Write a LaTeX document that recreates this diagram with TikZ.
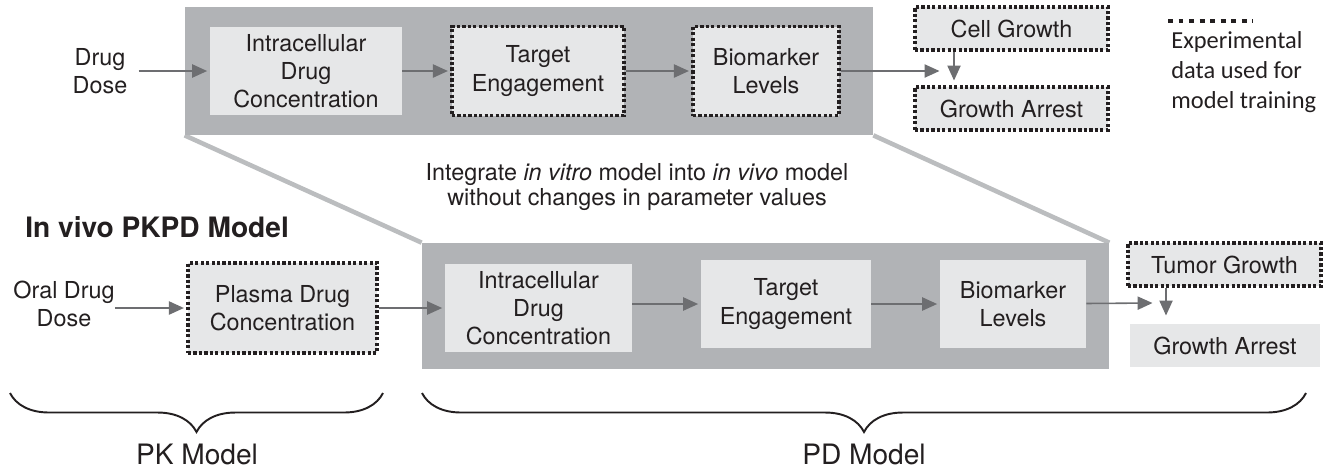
\documentclass[tikz,border=0pt]{standalone}
\usepackage{fontspec}
\setmainfont{TeX Gyre Heros}
\newfontfamily\legendfont{Carlito}
\usetikzlibrary{arrows.meta,backgrounds,decorations.pathreplacing}
\definecolor{panelgray}{RGB}{177,179,182}
\definecolor{boxgray}{RGB}{230,231,232}
\definecolor{flowgray}{RGB}{109,110,113}
\definecolor{zoomgray}{RGB}{187,189,191}
\definecolor{inkblack}{RGB}{35,31,32}

\begin{document}
\begin{tikzpicture}[
    x=0.2mm, y=-0.2mm,
    >={Triangle[length=8.5pt, width=7.5pt]},
    panel/.style={rectangle, fill=panelgray, inner sep=0pt},
    stage/.style={rectangle, fill=boxgray, inner sep=0pt, align=center, text=inkblack, font=\fontsize{13.3}{16}\selectfont},
    measured/.style={stage, draw=inkblack, line width=1.8pt, dash pattern=on 1.8pt off 1.3pt},
    input/.style={align=center, inner sep=0pt, text=inkblack, font=\fontsize{13.3}{16}\selectfont},
    flow/.style={->, draw=flowgray, line width=0.9pt, shorten >=0.5mm},
    zoomline/.style={draw=zoomgray, line width=2.6pt},
    curly/.style={decorate, decoration={brace, mirror, amplitude=7.8mm}, draw=inkblack, line width=1.1pt},
]
\useasboundingbox (0,0) rectangle (1330,472);

\node[panel, minimum width=137.6mm, minimum height=25.6mm] (vitro) at (529,71) {};
\node[panel, minimum width=137.4mm, minimum height=25.2mm] (vivo) at (765.5,306) {};
\begin{scope}[on background layer]
\draw[zoomline] (vitro.south west) -- (vivo.north west);
\draw[zoomline] (vitro.south east) -- (vivo.north east);
\end{scope}

% in vitro chain
\node[input] (dosevitro) at (100,71) {Drug\\Dose};
\node[stage, minimum width=38.4mm, minimum height=17.6mm] (icvitro) at (306,71) {Intracellular\\Drug\\Concentration};
\node[measured, minimum width=34.4mm, minimum height=17.8mm] (tevitro) at (538,71) {Target\\Engagement};
\node[measured, minimum width=29.2mm, minimum height=17.8mm] (bmvitro) at (766,71) {Biomarker\\Levels};
\node[measured, minimum width=38.6mm, minimum height=8.6mm] (cellgrowth) at (1011.5,28.5) {Cell Growth};
\node[measured, minimum width=38.6mm, minimum height=8.6mm] (arrestvitro) at (1011.5,108.5) {Growth Arrest};
\coordinate (jvitro) at (942,71);
\coordinate (kvitro) at (954,83);

\draw[flow, shorten <=2.2mm] (dosevitro) -- (icvitro);
\draw[flow] (icvitro) -- (tevitro);
\draw[flow] (tevitro) -- (bmvitro);
\draw[flow] (bmvitro) -- (jvitro);
\draw[flow] (cellgrowth.south -| kvitro) -- (kvitro);

\node[input, font=\fontsize{13.3}{14.2}\selectfont] (integrate) at (637,187) {Integrate \textit{in vitro} model into \textit{in vivo} model\\without changes in parameter values};

% in vivo chain
\node[input, anchor=west, font=\fontsize{16}{19}\selectfont\bfseries] (vivotitle) at (25,227) {In vivo PKPD Model};
\node[input] (dosevivo) at (64,304) {Oral Drug\\Dose};
\node[measured, minimum width=37.8mm, minimum height=18mm] (plasma) at (282.5,308) {Plasma Drug\\Concentration};
\node[stage, minimum width=37.4mm, minimum height=17.6mm] (icvivo) at (538.5,308) {Intracellular\\Drug\\Concentration};
\node[stage, minimum width=34mm, minimum height=17.6mm] (tevivo) at (786,304) {Target\\Engagement};
\node[stage, minimum width=29.2mm, minimum height=17.6mm] (bmvivo) at (1013,304) {Biomarker\\Levels};
\node[measured, minimum width=38.6mm, minimum height=8.6mm] (tumorgrowth) at (1224.5,264.5) {Tumor Growth};
\node[stage, minimum width=38mm, minimum height=8.6mm] (arrestvivo) at (1225,345.5) {Growth Arrest};
\coordinate (jvivo) at (1155,303);
\coordinate (kvivo) at (1166,318);

\draw[flow] (dosevivo.east |- plasma) -- (plasma);
\draw[flow] (plasma) -- (icvivo);
\draw[flow] (icvivo.east |- tevivo) -- (tevivo);
\draw[flow] (tevivo) -- (bmvivo);
\draw[flow] (bmvivo) -- (jvivo);
\draw[flow] (tumorgrowth.south -| kvivo) -- (kvivo);

% model braces
\coordinate (pkleft) at (10,393);
\coordinate (pkright) at (383,393);
\coordinate (pdleft) at (422,393);
\coordinate (pdright) at (1306,393);
\draw[curly] (pkleft) -- (pkright);
\draw[curly] (pdleft) -- (pdright);
\node[input, font=\fontsize{16}{19}\selectfont] (pklabel) at (197,454) {PK Model};
\node[input, font=\fontsize{16}{19}\selectfont] (pdlabel) at (864,454) {PD Model};

% legend
\coordinate (keyleft) at (1168,21);
\coordinate (keyright) at (1253,21);
\draw[draw=inkblack, line width=2.6pt, dash pattern=on 2.8pt off 3.2pt] (keyleft) -- (keyright);
\node[anchor=west, align=left, inner sep=0pt, text=inkblack, font=\legendfont\fontsize{13.9}{17}\selectfont] (keytext) at (1171,72) {Experimental\\data used for\\model training};

\end{tikzpicture}
\end{document}
